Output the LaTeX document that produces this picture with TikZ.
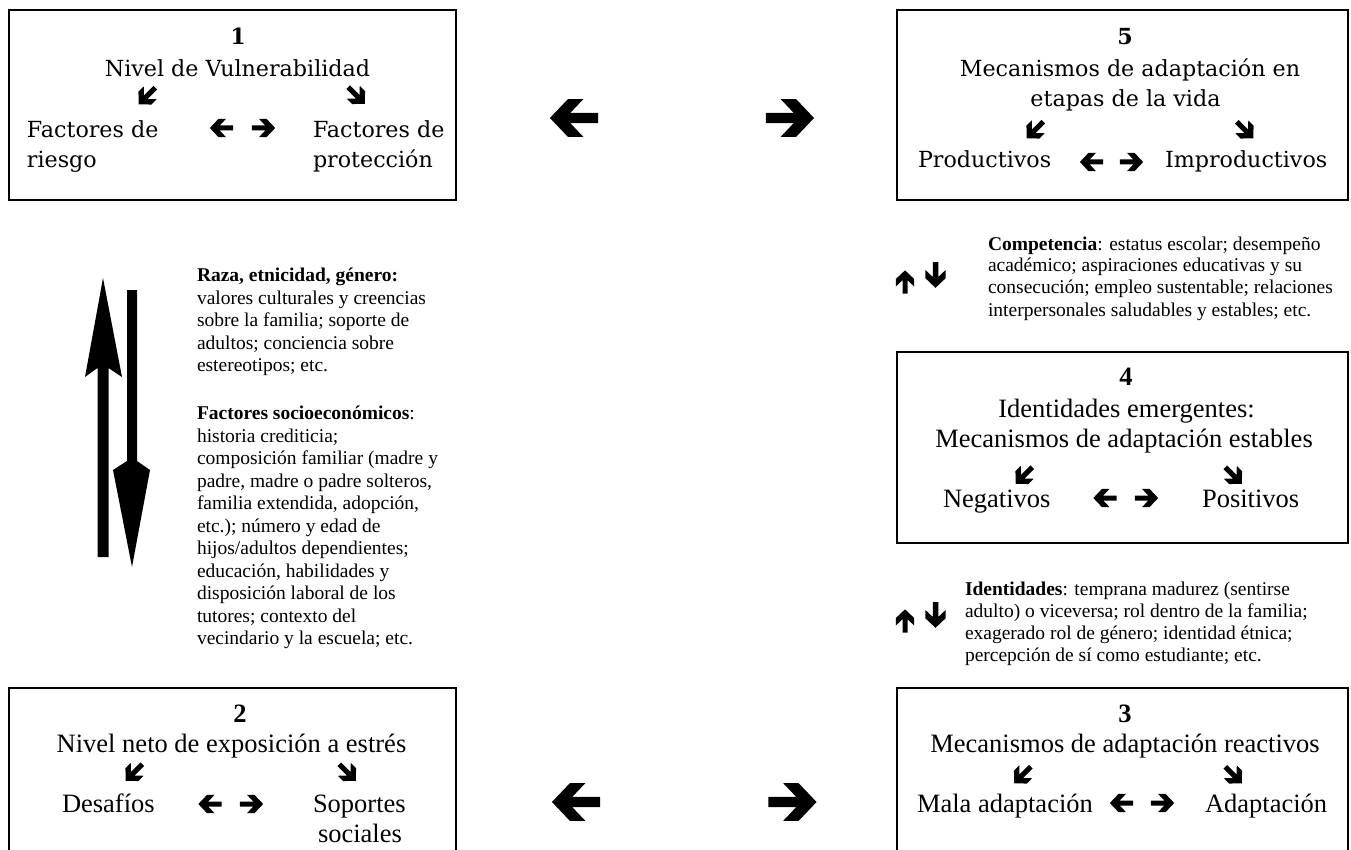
\documentclass[tikz,border=0pt]{standalone}
\usepackage{fontspec}
\setmainfont{Liberation Serif}
\newfontfamily\cambfont{DejaVu Serif}
\begin{document}
\begin{tikzpicture}[x=1pt,y=-1pt,
  every node/.style={inner sep=0pt, outer sep=0pt},
  frame/.style={draw=black, line width=1.4pt},
  cam/.style={font=\cambfont\fontsize{22.2}{28}\selectfont},
  camnum/.style={font=\cambfont\bfseries\fontsize{22.2}{28}\selectfont},
  tms/.style={font=\fontsize{26.5}{30}\selectfont},
  tmsnum/.style={font=\bfseries\fontsize{26.5}{30}\selectfont},
  note/.style={anchor=north west, align=left, font=\fontsize{19.5}{22}\selectfont},
  warrow/.pic={\fill[black] (-23.35,-5) -- (3.55,-5) -- (-9.05,-18.3) -- (5.95,-18.3) -- (23.35,0) -- (5.95,18.3) -- (-9.05,18.3) -- (3.55,5) -- (-23.35,5) -- cycle;}
]
\useasboundingbox (0,0) rectangle (1351,850);

% ---------- boxes ----------
\node[frame, minimum width=447pt, minimum height=190pt] (box1) at (232.5,105) {};
\node[frame, minimum width=451pt, minimum height=190pt] (box5) at (1122.5,105) {};
\node[frame, minimum width=451pt, minimum height=191pt] (box4) at (1122.5,447.5) {};
\node[frame, minimum width=447pt, minimum height=230pt] (box2) at (232.5,803) {};
\node[frame, minimum width=451pt, minimum height=230pt] (box3) at (1122.5,803) {};

% ---------- box 1 ----------
\node[camnum, anchor=base] (n1) at (238,45) {1};
\node[cam, anchor=base] (t1) at (237.5,77) {Nivel de Vulnerabilidad};
\node[cam, anchor=base west] (r1a) at (27,138) {Factores de};
\node[cam, anchor=base west] (r1b) at (27,168) {riesgo};
\node[cam, anchor=base west] (p1a) at (313,138) {Factores de};
\node[cam, anchor=base west] (p1b) at (313,168) {protección};
\pic[rotate=225, scale=0.5] at (147,96) {warrow};
\pic[rotate=315, scale=0.5] at (356.5,95.5) {warrow};
\pic[rotate=180, scale=0.5] at (221.5,128) {warrow};
\pic[scale=0.5] at (263.5,128) {warrow};

% ---------- box 5 ----------
\node[camnum, anchor=base] (n5) at (1125,45) {5};
\node[cam, anchor=base] (t5a) at (1130,77) {Mecanismos de adaptación en};
\node[cam, anchor=base] (t5b) at (1125.5,107) {etapas de la vida};
\node[cam, anchor=base west] (l5) at (918,168) {Productivos};
\node[cam, anchor=base west] (r5) at (1165,168) {Improductivos};
\pic[rotate=225, scale=0.5] at (1035,130) {warrow};
\pic[rotate=315, scale=0.5] at (1245,130) {warrow};
\pic[rotate=180, scale=0.5] at (1091.5,162) {warrow};
\pic[scale=0.5] at (1131.5,162) {warrow};

% ---------- box 4 ----------
\node[tmsnum, anchor=base] (n4) at (1126,385) {4};
\node[tms, anchor=base] (t4a) at (1126.5,417) {Identidades emergentes:};
\node[tms, anchor=base] (t4b) at (1124,447) {Mecanismos de adaptación estables};
\node[tms, anchor=base west] (l4) at (943,507) {Negativos};
\node[tms, anchor=base west] (r4) at (1202,507) {Positivos};
\pic[rotate=225, scale=0.5] at (1024,475.5) {warrow};
\pic[rotate=315, scale=0.5] at (1233.5,475.5) {warrow};
\pic[rotate=180, scale=0.5] at (1105,498) {warrow};
\pic[scale=0.5] at (1146.5,498) {warrow};

% ---------- box 3 ----------
\node[tmsnum, anchor=base] (n3) at (1125,722) {3};
\node[tms, anchor=base] (t3) at (1125,752) {Mecanismos de adaptación reactivos};
\node[tms, anchor=base west] (l3) at (917,812) {Mala adaptación};
\node[tms, anchor=base west] (r3) at (1205,812) {Adaptación};
\pic[rotate=225, scale=0.5] at (1022.5,775) {warrow};
\pic[rotate=315, scale=0.5] at (1233.5,775) {warrow};
\pic[rotate=180, scale=0.5] at (1121.5,803) {warrow};
\pic[scale=0.5] at (1162.5,803) {warrow};

% ---------- box 2 ----------
\node[tmsnum, anchor=base] (n2) at (240,722) {2};
\node[tms, anchor=base] (t2) at (231.5,752) {Nivel neto de exposición a estrés};
\node[tms, anchor=base west] (l2) at (62,812) {Desafíos};
\node[tms, anchor=base west] (r2a) at (313,812) {Soportes};
\node[tms, anchor=base west] (r2b) at (318,842) {sociales};
\pic[rotate=225, scale=0.5] at (134,772.5) {warrow};
\pic[rotate=315, scale=0.5] at (347.5,772.5) {warrow};
\pic[rotate=180, scale=0.5] at (210,804) {warrow};
\pic[scale=0.5] at (251.5,804) {warrow};

% ---------- big horizontal arrows ----------
\pic[rotate=180, scale=1.03] at (574,118) {warrow};
\pic[scale=1.03] at (790,118) {warrow};
\pic[rotate=180, scale=1.03] at (576,802) {warrow};
\pic[scale=1.03] at (792.5,802) {warrow};

% ---------- big vertical arrows ----------
\fill[black] (97.5,557) -- (97.5,368) -- (85,377) -- (103,278) -- (122,377) -- (108.5,368) -- (108.5,557) -- cycle;
\fill[black] (127,290) -- (127,461) -- (113,470) -- (132,567) -- (150,470) -- (137,461) -- (137,290) -- cycle;

% ---------- small up/down pairs ----------
\pic[rotate=90, scale=0.5] at (905,282) {warrow};
\pic[rotate=270, scale=0.55] at (935.5,275) {warrow};
\pic[rotate=90, scale=0.5] at (905,621) {warrow};
\pic[rotate=270, scale=0.55] at (935.5,615) {warrow};

% ---------- notes ----------
\node[note, font=\fontsize{19.5}{22.5}\selectfont] (race) at (197,266.2) {\strut\textbf{Raza, etnicidad, género:}\\ valores culturales y creencias\\ sobre la familia; soporte de\\ adultos; conciencia sobre\\ estereotipos; etc.};
\node[note, font=\fontsize{19.5}{22.5}\selectfont] (socio) at (197,404.2) {\strut\textbf{Factores socioeconómicos}:\\ historia crediticia;\\ composición familiar (madre y\\ padre, madre o padre solteros,\\ familia extendida, adopción,\\ etc.); número y edad de\\ hijos/adultos dependientes;\\ educación, habilidades y\\ disposición laboral de los\\ tutores; contexto del\\ vecindario y la escuela; etc.};
\node[note] (comp) at (988,234.6) {\strut\textbf{Competencia}: estatus escolar; desempeño\\ académico; aspiraciones educativas y su\\ consecución; empleo sustentable; relaciones\\ interpersonales saludables y estables; etc.};
\node[note] (iden) at (965,579.6) {\strut\textbf{Identidades}: temprana madurez (sentirse\\ adulto) o viceversa; rol dentro de la familia;\\ exagerado rol de género; identidad étnica;\\ percepción de sí como estudiante; etc.};
\end{tikzpicture}
\end{document}
